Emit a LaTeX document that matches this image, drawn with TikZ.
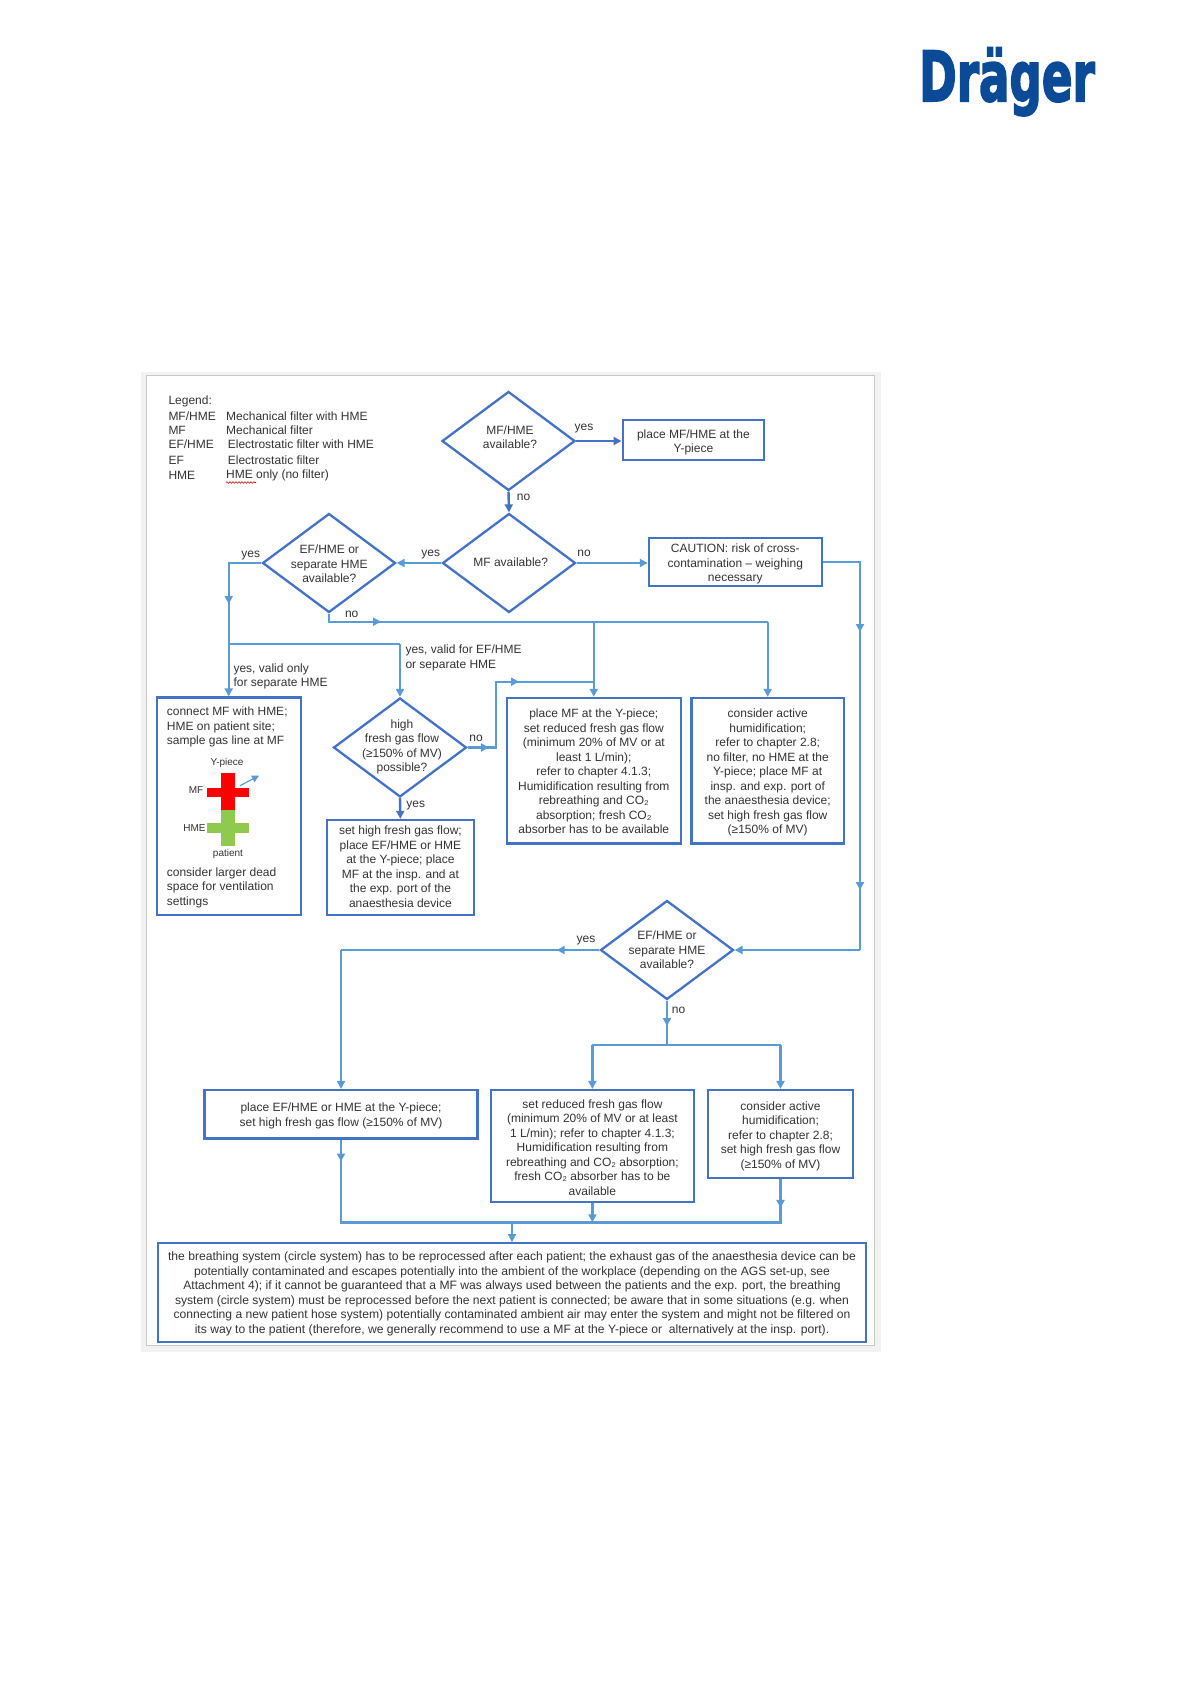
\documentclass[tikz,border=0pt]{standalone}
\usepackage{fontspec}
\setmainfont{Liberation Sans}
\newfontfamily\logofont[FakeBold=3]{DejaVu Sans Bold}
\usetikzlibrary{arrows.meta,shapes.geometric,decorations.pathmorphing}
\definecolor{boxblue}{HTML}{4472C4}
\definecolor{linkblue}{HTML}{5B9BD5}
\definecolor{ink}{HTML}{333333}
\definecolor{logoblue}{HTML}{0B4A96}
\definecolor{crossgreen}{HTML}{8FC94F}
\newcommand\pushdn[1]{\rule{0pt}{\dimexpr 9pt+2\dimexpr #1\relax\relax}}
\tikzset{
 boxn/.style={draw=boxblue,line width=2.3pt,rectangle,inner sep=0pt,align=center,text=ink,font=\fontsize{12}{14.5}\selectfont},
 dia/.style={draw=boxblue,line width=2.3pt,diamond,inner sep=0pt,minimum width=133pt,minimum height=99pt},
 txt/.style={text=ink,inner sep=0pt,align=center,font=\fontsize{12}{14.5}\selectfont},
 ltxt/.style={text=ink,inner sep=0pt,align=left,anchor=west,font=\fontsize{12}{14.5}\selectfont},
 small/.style={text=ink,inner sep=0pt,font=\fontsize{10}{12}\selectfont},
 conn/.style={draw=linkblue,line width=2.4pt},
 connd/.style={draw=boxblue,line width=2.4pt},
 tip/.style={-{Triangle[length=8pt,width=8pt]}},
}
\begin{document}
\begin{tikzpicture}[x=1pt,y=-1pt]
\useasboundingbox (0,0) rectangle (1191,1684);
% page panel
\fill[black!5] (141,372) rectangle (880.5,1351.5);
\draw[black!22,fill=white,line width=1pt] (146.5,375) rectangle (874.3,1345);
% logo
\node[text=logoblue,inner sep=0pt,anchor=base] (logo) at (1007,101) {\scalebox{0.655}[1]{\fontsize{69}{69}\logofont Dräger}};
% legend
\node[ltxt] (lg0) at (168.3,401.5) {Legend:};
\node[ltxt] (lg1a) at (168.3,416) {MF/HME};
\node[ltxt] (lg1b) at (226,416) {Mechanical filter with HME};
\node[ltxt] (lg2a) at (168.3,430) {MF};
\node[ltxt] (lg2b) at (226,430) {Mechanical filter};
\node[ltxt] (lg3a) at (168.3,444.5) {EF/HME};
\node[ltxt] (lg3b) at (227.7,444.5) {Electrostatic filter with HME};
\node[ltxt] (lg4a) at (168.3,460) {EF};
\node[ltxt] (lg4b) at (227.7,460) {Electrostatic filter};
\node[ltxt] (lg5a) at (168.3,475) {HME};
\node[ltxt] (lg5b) at (226,475) {HME only (no filter)};
\coordinate (wv1) at (226,482.5);
\coordinate (wv2) at (256,482.5);
\draw[red!80!black,line width=.6pt,decorate,decoration={snake,amplitude=.8pt,segment length=3pt}] (wv1) -- (wv2);
% diamonds
\node[dia] (d1) at (508.5,441) {};
\node[dia] (d2) at (509,563) {};
\node[dia] (d3) at (329,563) {};
\node[dia] (d4) at (400,747.5) {};
\node[dia] (d5) at (667,950) {};
\node[txt] (d1t) at (510,437) {MF/HME\\available?};
\node[txt] (d2t) at (510.7,562) {MF available?};
\node[txt] (d3t) at (329.3,564) {EF/HME or\\separate HME\\available?};
\node[txt] (d4t) at (402,747) {high\\fresh gas flow\\(≥150\% of MV)\\possible?};
\node[txt] (d5t) at (667,950) {EF/HME or\\separate HME\\available?};
% boxes
\node[boxn,minimum width=141.5pt,minimum height=40pt] (bplace) at (693.4,440) {\pushdn{2pt}place MF/HME at the\\Y-piece};
\node[boxn,minimum width=172.7pt,minimum height=48.5pt] (bcaut) at (735.3,562) {\pushdn{2pt}CAUTION: risk of cross-\\contamination – weighing\\necessary};
\node[boxn,minimum width=144pt,minimum height=217.5pt] (bleft) at (228.7,806.3) {};
\node[boxn,minimum width=147.5pt,minimum height=95pt] (bhigh) at (400.4,867.5) {set high fresh gas flow;\\place EF/HME or HME\\at the Y-piece; place\\MF at the insp. and at\\the exp. port of the\\anaesthesia device\rule[-2pt]{0pt}{2pt}};
\node[boxn,minimum width=174.3pt,minimum height=145.5pt] (bmf) at (593.8,770.7) {\pushdn{.5pt}place MF at the Y-piece;\\set reduced fresh gas flow\\(minimum 20\% of MV or at\\least 1 L/min);\\refer to chapter 4.1.3;\\Humidification resulting from\\rebreathing and CO₂\\absorption; fresh CO₂\\absorber has to be available};
\node[boxn,minimum width=152.3pt,minimum height=145.5pt] (bcons) at (767.7,770.7) {\pushdn{2pt}consider active\\humidification;\\refer to chapter 2.8;\\no filter, no HME at the\\Y-piece; place MF at\\insp. and exp. port of\\the anaesthesia device;\\set high fresh gas flow\\(≥150\% of MV)};
\node[boxn,minimum width=273pt,minimum height=48.3pt] (bef) at (341,1114.2) {\pushdn{1.5pt}place EF/HME or HME at the Y-piece;\\set high fresh gas flow (≥150\% of MV)};
\node[boxn,minimum width=202.8pt,minimum height=111.7pt] (bred) at (592.4,1145.9) {\pushdn{1.5pt}set reduced fresh gas flow\\(minimum 20\% of MV or at least\\1 L/min); refer to chapter 4.1.3;\\Humidification resulting from\\rebreathing and CO₂ absorption;\\fresh CO₂ absorber has to be\\available};
\node[boxn,minimum width=145.5pt,minimum height=87.7pt] (bhum) at (780.5,1133.9) {\pushdn{2pt}consider active\\humidification;\\refer to chapter 2.8;\\set high fresh gas flow\\(≥150\% of MV)};
\node[boxn,font=\fontsize{12.13}{14.5}\selectfont,minimum width=708.3pt,minimum height=98.4pt] (bend) at (512,1292.5) {\pushdn{1pt}the breathing system (circle system) has to be reprocessed after each patient; the exhaust gas of the anaesthesia device can be\\potentially contaminated and escapes potentially into the ambient of the workplace (depending on the AGS set-up, see\\Attachment 4); if it cannot be guaranteed that a MF was always used between the patients and the exp. port, the breathing\\system (circle system) must be reprocessed before the next patient is connected; be aware that in some situations (e.g. when\\connecting a new patient hose system) potentially contaminated ambient air may enter the system and might not be filtered on\\its way to the patient (therefore, we generally recommend to use a MF at the Y-piece or \ alternatively at the insp. port).};
% left box contents
\node[ltxt,anchor=north west] (lt1) at (166.7,707) {connect MF with HME;\\HME on patient site;\\sample gas line at MF};
\node[ltxt,anchor=north west] (lt2) at (166.7,867.5) {consider larger dead\\space for ventilation\\settings};
\fill[red] (221,773.3) rectangle (235.3,810);
\fill[red] (207.3,787.7) rectangle (249.3,797.3);
\fill[crossgreen] (221,810) rectangle (235.3,845.7);
\fill[crossgreen] (207.3,823.3) rectangle (249.3,833.3);
\node[small] (cy) at (227,763) {Y-piece};
\node[small] (cm) at (196,790) {MF};
\node[small] (ch) at (194.5,828) {HME};
\node[small] (cp) at (228,854) {patient};
\coordinate (ca1) at (240,785.7);
\coordinate (ca2) at (259,775.7);
\draw[linkblue,line width=1.2pt,-{Triangle[length=7pt,width=7pt]}] (ca1) -- (ca2);
% connectors
\draw[connd,tip] (d1.east) -- (d1.east -| bplace.west);
\draw[connd,tip] (d1.south) -- (d2.north);
\draw[conn,tip] (d2.west) -- (d3.east);
\draw[conn,tip] (d2.east) -- (d2.east -| bcaut.west);
\coordinate (ja) at (bleft.north |- d3.west);
\coordinate (jb) at ([yshift=-41pt]ja);
\coordinate (jc) at ([yshift=-81pt]ja);
\draw[conn] (d3.west) -- (ja) -- (jc);
\draw[conn,tip] (ja) -- (jb);
\draw[conn,tip] (jc) -- (bleft.north);
\coordinate (jd) at (d4.north |- jc);
\draw[conn] (jc) -- (jd);
\draw[conn,tip] (jd) -- (d4.north);
\coordinate (je) at (329,621.7);
\coordinate (jf) at (381,621.7);
\coordinate (jg) at (bmf.north |- je);
\coordinate (jh) at (bcons.north |- je);
\draw[conn] (d3.south) -- (je) -- (jh);
\draw[conn,tip] (je) -- (jf);
\draw[conn,tip] (jg) -- (bmf.north);
\draw[conn,tip] (jh) -- (bcons.north);
\coordinate (ji) at (489,747.5);
\coordinate (jj) at (496,747.5);
\coordinate (jk) at (496,681.7);
\coordinate (jl) at (519,681.7);
\coordinate (jm) at (bmf.north |- jk);
\draw[conn] (d4.east) -- (jj) -- (jk) -- (jm);
\draw[conn,tip] (d4.east) -- (ji);
\draw[conn,tip] (jk) -- (jl);
\draw[connd,tip] (d4.south) -- (bhigh.north);
\coordinate (jn) at (860,561.7);
\coordinate (jo) at (860,632);
\coordinate (jp) at (860,890);
\coordinate (jq) at (860,950);
\draw[conn] (bcaut.east |- jn) -- (jn) -- (jq);
\draw[conn,tip] (jn) -- (jo);
\draw[conn,tip] (jo) -- (jp);
\draw[conn,tip] (jq) -- (d5.east);
\coordinate (jr) at (556.7,950);
\coordinate (js) at (bef.north |- jr);
\draw[conn] (d5.west) -- (js);
\draw[conn,tip] (d5.west) -- (jr);
\draw[conn,tip] (js) -- (bef.north);
\coordinate (jt) at (667,1026);
\coordinate (ju) at (667,1045);
\coordinate (jv) at (bred.north |- ju);
\coordinate (jw) at (bhum.north |- ju);
\draw[conn] (d5.south) -- (ju);
\draw[conn,tip] (d5.south) -- (jt);
\draw[conn] (jv) -- (jw);
\draw[conn,tip] (jv) -- (bred.north);
\draw[conn,tip] (jw) -- (bhum.north);
\coordinate (jx) at ([yshift=-22pt]bef.south);
\coordinate (jy) at (bef.south |- 0,1222.3);
\coordinate (jz) at (bhum.south |- 0,1222.3);
\coordinate (ka) at ([yshift=-29pt]bhum.south);
\coordinate (kb) at (bred.south |- 0,1222.3);
\coordinate (kc) at (bend.north |- 0,1222.3);
\draw[conn] (bef.south) -- (jy) -- (jz) -- (bhum.south);
\draw[conn,tip] (bef.south) -- (jx);
\draw[conn,tip] (bhum.south) -- (ka);
\draw[conn,tip] (bred.south) -- (kb);
\draw[conn,tip] (kc) -- (bend.north);
% labels
\node[txt] (y1) at (584,429) {yes};
\node[txt] (n1) at (523.5,497.7) {no};
\node[txt] (y2) at (430.7,555) {yes};
\node[txt] (n2) at (584,553.5) {no};
\node[txt] (y3) at (250.7,556) {yes};
\node[txt] (n3) at (351.7,614.5) {no};
\node[ltxt] (y4) at (405.3,657.8) {yes, valid for EF/HME\\or separate HME};
\node[ltxt] (y5) at (233.3,676.2) {yes, valid only\\for separate HME};
\node[txt] (n4) at (476,738.7) {no};
\node[txt] (y6) at (415.7,806) {yes};
\node[txt] (y7) at (586,941) {yes};
\node[txt] (n5) at (678.5,1010) {no};
\end{tikzpicture}
\end{document}
